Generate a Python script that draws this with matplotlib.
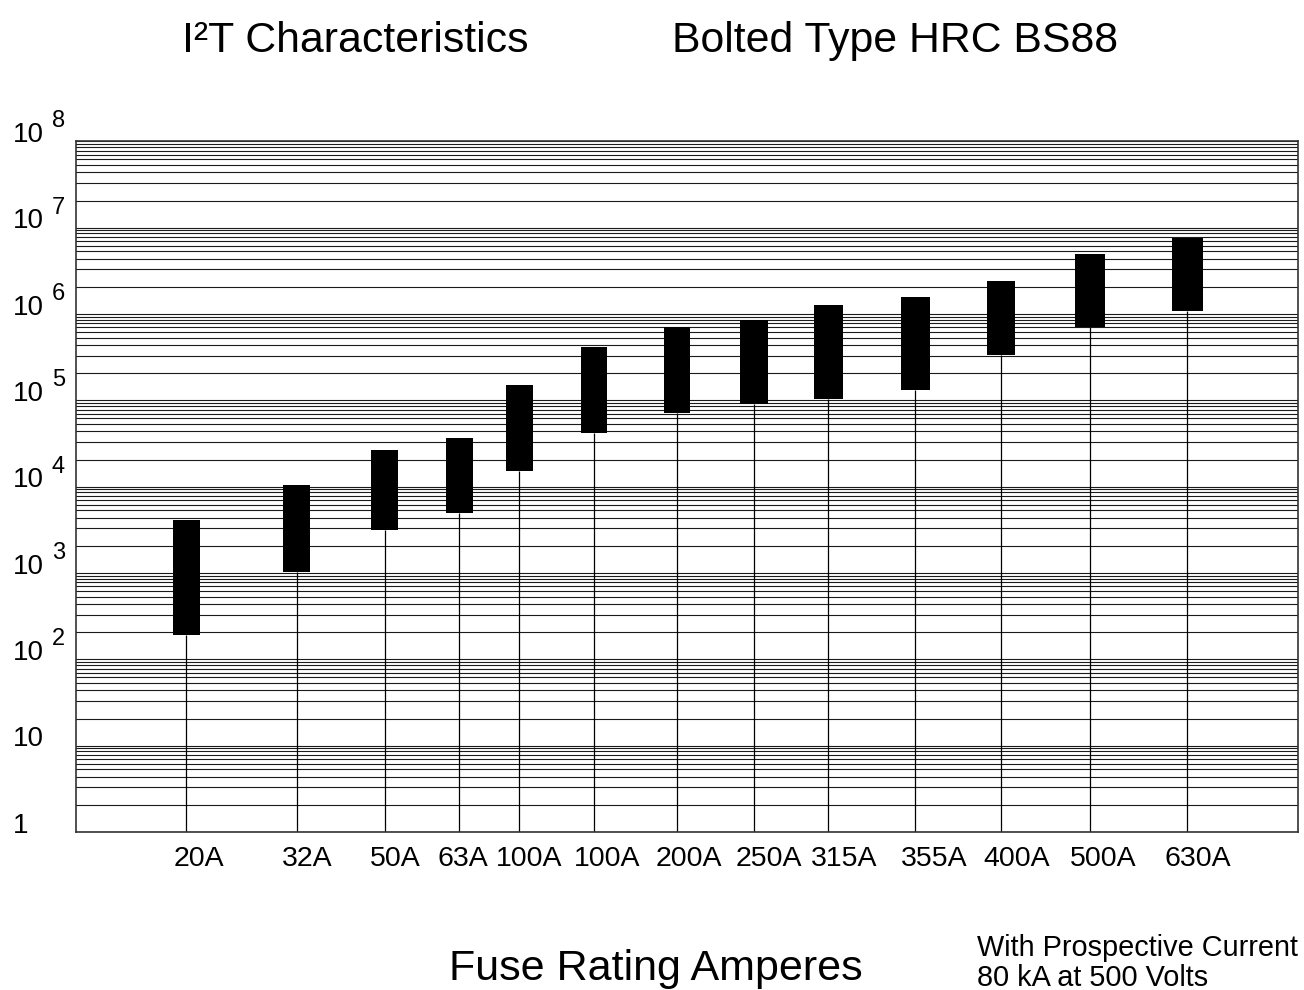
import numpy as np
import matplotlib
matplotlib.use("Agg")
import matplotlib.pyplot as plt
from matplotlib import transforms

plt.rcParams["font.family"] = ["Liberation Sans", "DejaVu Sans"]

# fuse ratings and the I2t band (min / max)
ratings = ["20A", "32A", "50A", "63A", "100A", "100A", "200A",
           "250A", "315A", "355A", "400A", "500A", "630A"]
i2t_min = [94, 500, 1540, 2430, 7400, 20300, 34700,
           44000, 50300, 64000, 163000, 343000, 530000]
i2t_max = [2030, 5100, 12900, 17800, 73000, 201000, 343000,
           414000, 617000, 764000, 1170000, 2400000, 3680000]
decade_labels = ["1", "10", "2", "3", "4", "5", "6", "7", "8"]

# layout: where each rating sits along the (0..100) x range
bar_x = [9.07, 18.09, 25.28, 31.39, 36.30, 42.41, 49.20,
         55.49, 61.58, 68.70, 75.72, 83.00, 90.94]
label_x = [10.10, 18.99, 26.13, 31.70, 37.07, 43.48, 50.18,
           56.71, 62.84, 70.23, 77.01, 84.05, 91.80]
bar_w = [2.25, 2.2, 2.2, 2.2, 2.2, 2.2, 2.2,
         2.25, 2.4, 2.4, 2.3, 2.5, 2.5]

W, H = 1304, 990
fig = plt.figure(figsize=(W / 100, H / 100), dpi=100)
ax = fig.add_axes([75.5 / W, 1 - 832 / H, (1298 - 75.5) / W, (832 - 141.4) / H])

squeeze = 0.688  # grid cycles only fill part of each labelled decade
y_lo = 10 ** (-1 + squeeze)
y_hi = 10 ** (7 + squeeze)
ax.set_yscale("log")
ax.set_ylim(y_lo, y_hi)
ax.set_xlim(0, 100)

# log-paper style grid
for n in range(-1, 8):
    for k in range(1, 11):
        ax.axhline(10 ** (n + squeeze * np.log10(k)), color="#1a1a1a", lw=0.8, zorder=1)

lo = np.array(i2t_min, dtype=float)
hi = np.array(i2t_max, dtype=float)
ax.vlines(bar_x, y_lo, lo, color="black", lw=0.9, zorder=2)
ax.bar(bar_x, hi - lo, bottom=lo, width=bar_w, color="black", zorder=3)

ax.set_yticks([])
ax.minorticks_off()
ax.set_xticks(label_x, ratings, fontsize=20.5)
ax.tick_params(axis="x", length=0, pad=10)
for s in ax.spines.values():
    s.set_color("#333333")
    s.set_linewidth(1.2)

# decade labels on the left
trans = transforms.blended_transform_factory(fig.transFigure, ax.transData)
for n, sup in enumerate(decade_labels):
    base = 10 ** (n - 0.32)
    if n < 2:
        ax.text(13 / W, base, sup, transform=trans, fontsize=20, va="baseline", ha="left")
    else:
        ax.text(13 / W, base, "10", transform=trans, fontsize=20, va="baseline", ha="left")
        ax.text(52 / W, 10 ** (n - 0.32 + 0.17), sup, transform=trans,
                fontsize=17, va="baseline", ha="left")

fig.text(182 / W, 1 - 52 / H, "I²T Characteristics", fontsize=30.8, va="baseline")
fig.text(672 / W, 1 - 52 / H, "Bolted Type HRC BS88", fontsize=30.8, va="baseline")
fig.text(656 / W, 1 - 980 / H, "Fuse Rating Amperes", fontsize=31, va="baseline", ha="center")
fig.text(977 / W, 1 - 956.5 / H, "With Prospective Current", fontsize=20.8, va="baseline")
fig.text(977 / W, 1 - 986.5 / H, "80 kA at 500 Volts", fontsize=20.8, va="baseline")

fig.savefig("out.png", dpi=100)
